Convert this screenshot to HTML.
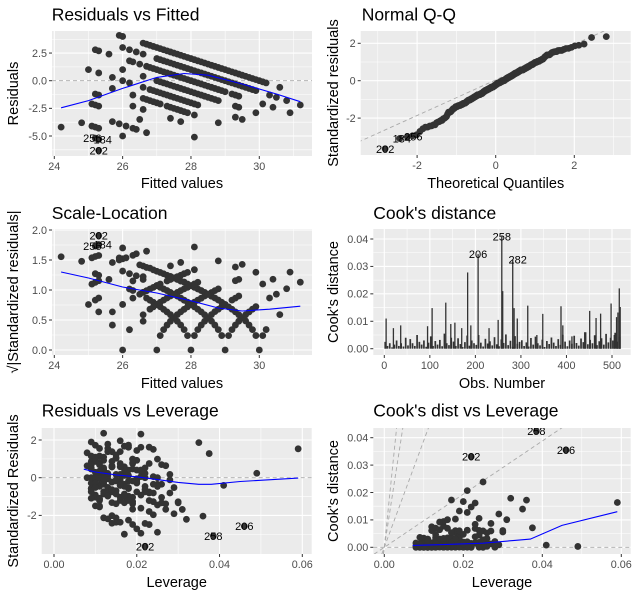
<!DOCTYPE html>
<html><head><meta charset="utf-8"><style>
html,body{margin:0;padding:0;background:#fff;overflow:hidden;width:638px;height:595px;}
svg{display:block;font-family:"Liberation Sans",Arial,sans-serif;}
.ttl{font-size:17.5px;fill:#000;}
.axt{font-size:14.5px;fill:#000;}
</style></head><body>
<svg id="chart" width="638" height="595" viewBox="0 0 638 595" xmlns="http://www.w3.org/2000/svg">
<rect x="0" y="0" width="638" height="595" fill="#fff"/>
<text class="ttl" x="51.7" y="20.5">Residuals vs Fitted</text>
<text class="ttl" x="361.7" y="20.5">Normal Q-Q</text>
<text class="ttl" x="51.7" y="219">Scale-Location</text>
<text class="ttl" x="373.3" y="219">Cook's distance</text>
<text class="ttl" x="41.7" y="416.7">Residuals vs Leverage</text>
<text class="ttl" x="373.3" y="416.7">Cook's dist vs Leverage</text>
<text class="axt" x="182" y="188" text-anchor="middle">Fitted values</text>
<text class="axt" x="495.7" y="188" text-anchor="middle">Theoretical Quantiles</text>
<text class="axt" x="182" y="388" text-anchor="middle">Fitted values</text>
<text class="axt" x="502" y="388" text-anchor="middle">Obs. Number</text>
<text class="axt" x="176.7" y="587" text-anchor="middle">Leverage</text>
<text class="axt" x="502" y="587" text-anchor="middle">Leverage</text>
<text class="axt" transform="translate(18,93.5) rotate(-90)" text-anchor="middle">Residuals</text>
<text class="axt" transform="translate(338,93) rotate(-90)" text-anchor="middle">Standardized residuals</text>
<text class="axt" transform="translate(18,292) rotate(-90)" text-anchor="middle">√|Standardized residuals|</text>
<text class="axt" transform="translate(338,292) rotate(-90)" text-anchor="middle">Cook's distance</text>
<text class="axt" transform="translate(18,491) rotate(-90)" text-anchor="middle">Standardized Residuals</text>
<text class="axt" transform="translate(338,491) rotate(-90)" text-anchor="middle">Cook's distance</text>
</svg>
<script>
// ---------- data ----------
const fittedVals = [
25.9,26.0,26.6,26.8,27.0,27.2,27.4,27.6,27.8,28.0,28.2,28.4,28.6,28.8,29.0,29.2,29.4,29.6,29.8,30.0,30.2,30.6,
26.0,26.2,26.4,26.6,27.0,27.3,27.5,27.7,27.9,28.1,28.3,28.5,28.7,28.9,29.1,29.3,29.5,29.7,29.9,30.3,30.5,30.8,31.2,
25.2,25.3,25.6,26.2,26.3,26.5,26.7,26.9,27.1,27.3,27.5,27.7,27.9,28.1,28.3,28.5,28.7,28.9,29.2,29.4,30.1,30.4,30.9,
26.0,26.6,27.0,27.2,27.4,27.6,27.8,28.0,28.2,28.4,28.6,28.8,29.3,29.4,29.9,
25.0,25.3,25.7,26.0,26.2,26.6,26.8,27.0,27.2,27.4,27.6,27.8,28.0,28.2,29.3,29.5,
25.7,26.3,26.6,26.8,27.0,27.3,27.5,27.7,27.9,28.1,28.8,
25.2,25.3,26.3,26.6,27.4,27.7,
25.1,25.2,25.3,26.5,28.1,
25.7,25.9,26.1,26.3,26.4,26.7,
24.8,25.1,25.2,25.3,26.0,
24.2,25.2,25.3,
25.3,
26.7,26.9,27.1,27.3,27.5,27.7,27.9,28.1,28.3,28.5,28.7,28.9,29.1,29.3,29.5,29.7,29.9,30.1,
27.1,27.2,27.4,27.6,27.8,28.0,28.2,28.4,28.6,28.8,29.0,29.2,29.4,29.6,29.8,
26.8,27.0,27.2,27.4,27.6,27.8,28.0,28.2,28.4,28.6,28.8,29.0,29.3,
27.1,27.3,27.5,27.7,27.9,28.1,28.3,28.5,28.7,
26.9,27.1,27.3,27.5,27.7,27.9,28.1,
26.7,26.9,27.1,27.4,27.6,27.8];
const responseVals = [
30,30,30,30,30,30,30,30,30,30,30,30,30,30,30,30,30,30,30,30,30,30,
29,29,29,29,29,29,29,29,29,29,29,29,29,29,29,29,29,29,29,29,29,29,29,
28,28,28,28,28,28,28,28,28,28,28,28,28,28,28,28,28,28,28,28,28,28,28,
27,27,27,27,27,27,27,27,27,27,27,27,27,27,27,
26,26,26,26,26,26,26,26,26,26,26,26,26,26,26,26,
25,25,25,25,25,25,25,25,25,25,25,
24,24,24,24,24,24,
23,23,23,23,23,
22,22,22,22,22,22,
21,21,21,21,21,
20,20,20,
19,
30,30,30,30,30,30,30,30,30,30,30,30,30,30,30,30,30,30,
29,29,29,29,29,29,29,29,29,29,29,29,29,29,29,
28,28,28,28,28,28,28,28,28,28,28,28,28,
27,27,27,27,27,27,27,27,27,
26,26,26,26,26,26,26,
25,25,25,25,25,25];
const leverageVals = [
0.012,0.021,0.016,0.035,0.010,0.018,0.024,0.013,0.0375,0.009,0.015,0.020,0.011,0.026,0.014,0.019,0.012,0.049,0.017,0.022,0.028,0.025,
0.018,0.023,0.059,0.014,0.011,0.019,0.009,0.016,0.027,0.012,0.021,0.010,0.015,0.024,0.013,0.018,0.020,0.011,0.029,0.023,0.017,0.026,0.030,
0.021,0.013,0.016,0.010,0.025,0.014,0.019,0.008,0.022,0.012,0.017,0.028,0.011,0.020,0.015,0.009,0.041,0.018,0.013,0.024,0.016,0.027,0.031,
0.017,0.012,0.009,0.020,0.014,0.026,0.011,0.018,0.013,0.023,0.010,0.016,0.030,0.019,0.027,
0.014,0.020,0.012,0.025,0.010,0.017,0.022,0.009,0.015,0.028,0.013,0.019,0.011,0.024,0.029,0.036,
0.016,0.012,0.021,0.010,0.018,0.014,0.025,0.011,0.019,0.023,0.032,
0.013,0.022,0.017,0.010,0.024,0.015,
0.011,0.019,0.026,0.014,0.021,
0.012,0.018,0.015,0.023,0.046,0.020,
0.013,0.016,0.022,0.019,0.025,
0.014,0.017,0.0385,
0.022,
0.009,0.013,0.017,0.011,0.020,0.008,0.015,0.012,0.019,0.010,0.023,0.014,0.009,0.018,0.012,0.016,0.021,0.011,
0.010,0.015,0.012,0.019,0.009,0.014,0.017,0.011,0.022,0.013,0.008,0.016,0.020,0.012,0.025,
0.011,0.016,0.009,0.021,0.013,0.018,0.010,0.015,0.012,0.024,0.017,0.009,0.014,
0.012,0.019,0.010,0.016,0.013,0.022,0.009,0.015,0.018,
0.010,0.014,0.020,0.012,0.017,0.011,0.023,
0.013,0.009,0.018,0.015,0.011,0.021];
const residSigma = 1.75;
const nParams = 9;
const fitLabelIdx = [133,134,135];
const fitLabelText = ['256','184','202'];
const levLabelIdx = [135,134,125];
const levLabelText = ['202','258','206'];
// loess smooth curves
const smoothFitX = [24.2,25,26,27,27.8,28.5,29.5,30.5,31.2];
const smoothFitY = [-2.45,-1.8,-0.7,0.3,0.65,0.5,-0.3,-1.2,-1.9];
const smoothScaleX = [24.2,25,26,27,28,28.8,29.5,30.3,31.2];
const smoothScaleY = [1.3,1.2,1.05,0.95,0.82,0.7,0.65,0.68,0.73];
const smoothLevX = [0.0072,0.01,0.015,0.02,0.025,0.03,0.035,0.038,0.045,0.059];
const smoothLevY = [0.45,0.3,0.15,0.05,-0.1,-0.25,-0.35,-0.35,-0.2,-0.02];
const smoothCookX = [0.0072,0.015,0.025,0.033,0.037,0.045,0.059];
const smoothCookY = [0.0007,0.001,0.0015,0.0025,0.003,0.008,0.013];
const qqSlope = 0.95, qqIntercept = 0.04;
const contourSlopes = [0.97,3.9,9.3,14];
// Cook's distance by observation (values in thousandths)
const cookBaseVals = [2.5,1,2,0.5,1.5,3,1,2,0.8,4,1.2,3.5,2,1,5,2.5,1.5,3,0.7,2.2,4.5,1,2.8,1.5,3.2,0.9,5.5,2,1.3,4,2.6,1,3.8,1.7,0.6,2.4,4.8,1.1,3,2,1.4,5,2.2,0.8,3.6,1.9,2.7,1.2,4.2,1.6,0.9,3.4,2.1,5.2,1.3,2.9,0.7,4.6,1.8,2.5,3.1,1,2.3,0.8,3.9,1.5,4.4,2,1.2,3.3,0.6,2.8,1.7,4.1,2.2,1,3.5,1.4,5.1,2.6,0.9,3,1.8,4.7,2.1,1.1,3.7,2.4,6,1.6,3.2,2,4.9,1.3,2.7,3.8,1.5,5.4,2.3,4,3,5.8,2.6,4.3];
const cookBaseStep = 5;
const cookPeakObs = [4,20,36,95,105,135,146,155,170,183,190,206,230,250,258,260,282,285,292,315,335,348,388,392,412,440,451,465,475,498,505,510,513,516,518];
const cookPeakVals = [11,7.5,8.5,8.2,14.8,16.8,9,9.5,7.5,27.8,8.5,34.5,7.5,10.5,41,21,32.5,14.8,11,15.7,5,12.7,15.5,8.5,4.5,6,13.8,11.2,12.8,16.5,5,11.5,13.2,22,15.2];
const cookLabelObs = [206,258,282];
const cookLabelVals = [34.5,41,32.5];

// ---------- helpers ----------
const NS='http://www.w3.org/2000/svg';
const svg=document.getElementById('chart');
function mk(tag,attrs,parent){const e=document.createElementNS(NS,tag);for(const k in attrs)e.setAttribute(k,attrs[k]);(parent||svg).appendChild(e);return e;}
function lin(d0,p0,d1,p1){return v=>p0+(v-d0)*(p1-p0)/(d1-d0);}
function qnorm(p){
  const a=[-39.69683028665376,220.9460984245205,-275.9285104469687,138.3577518672690,-30.66479806614716,2.506628277459239];
  const b=[-54.47609879822406,161.5858368580409,-155.6989798598866,66.80131188771972,-13.28068155288572];
  const c=[-0.007784894002430293,-0.3223964580411365,-2.400758277161838,-2.549732539343734,4.374664141464968,2.938163982698783];
  const d=[0.007784695709041462,0.3224671290700398,2.445134137142996,3.754408661907416];
  const pl=0.02425;let q,r;
  if(p<pl){q=Math.sqrt(-2*Math.log(p));return (((((c[0]*q+c[1])*q+c[2])*q+c[3])*q+c[4])*q+c[5])/((((d[0]*q+d[1])*q+d[2])*q+d[3])*q+1);}
  if(p>1-pl){q=Math.sqrt(-2*Math.log(1-p));return -(((((c[0]*q+c[1])*q+c[2])*q+c[3])*q+c[4])*q+c[5])/((((d[0]*q+d[1])*q+d[2])*q+d[3])*q+1);}
  q=p-0.5;r=q*q;return (((((a[0]*r+a[1])*r+a[2])*r+a[3])*r+a[4])*r+a[5])*q/(((((b[0]*r+b[1])*r+b[2])*r+b[3])*r+b[4])*r+1);
}

function panel(cfg){
  const [x0,y0,x1,y1]=cfg.box;
  const g=mk('g',{});
  
  
  const bg=mk('rect',{x:x0,y:y0,width:x1-x0,height:y1-y0,fill:'#EBEBEB'},g);
  
  
  const grid=mk('g',{},g);
  
  
  cfg.xminor.forEach(v=>{const p=cfg.sx(v);if(p>x0&&p<x1)mk('line',{x1:p,x2:p,y1:y0,y2:y1,stroke:'#fff','stroke-width':0.55},grid);});
  cfg.yminor.forEach(v=>{const p=cfg.sy(v);if(p>y0&&p<y1)mk('line',{x1:x0,x2:x1,y1:p,y2:p,stroke:'#fff','stroke-width':0.55},grid);});
  cfg.xt.forEach(v=>{const p=cfg.sx(v);mk('line',{x1:p,x2:p,y1:y0,y2:y1,stroke:'#fff','stroke-width':1.1},grid);});
  cfg.yt.forEach(v=>{const p=cfg.sy(v);mk('line',{x1:x0,x2:x1,y1:p,y2:p,stroke:'#fff','stroke-width':1.1},grid);});
  const ax=mk('g',{},g);
  
  
  cfg.xt.forEach((v,i)=>{const p=cfg.sx(v);
    mk('line',{x1:p,x2:p,y1:y1,y2:y1+3,stroke:'#333','stroke-width':1},ax);
    const t=mk('text',{x:p,y:y1+14,'text-anchor':'middle','font-size':'10.8px',fill:'#4d4d4d'},ax);
    
    
    t.textContent=cfg.xl[i];});
  cfg.yt.forEach((v,i)=>{const p=cfg.sy(v);
    mk('line',{x1:x0-3,x2:x0,y1:p,y2:p,stroke:'#333','stroke-width':1},ax);
    const t=mk('text',{x:x0-5,y:p+3.8,'text-anchor':'end','font-size':'10.8px',fill:'#4d4d4d'},ax);
    
    
    t.textContent=cfg.yl[i];});
  const clipId='clip'+cfg.name;
  const cp=mk('clipPath',{id:clipId},g);
  mk('rect',{x:x0,y:y0,width:x1-x0,height:y1-y0},cp);
  const marks=mk('g',{'clip-path':'url(#'+clipId+')'},g);
  
  
  return marks;
}
function dashH(g,x0,x1,y){const l=mk('line',{x1:x0,x2:x1,y1:y,y2:y,stroke:'#aaa','stroke-width':0.9,'stroke-dasharray':'4,3'},g);
  
  }
function dot(g,x,y){const c=mk('circle',{cx:x,cy:y,r:3.4,fill:'#333'},g);
  
  }
function smooth(g,xs,ys,sx,sy){const d=xs.map((v,i)=>(i?'L':'M')+sx(v).toFixed(1)+','+sy(ys[i]).toFixed(1)).join('');
  const p=mk('path',{d:d,fill:'none',stroke:'#0000FF','stroke-width':1.1},g);
  
  }
function label(g,x,y,txt){const t=mk('text',{x:x,y:y+4,'text-anchor':'middle','font-size':'11px',fill:'#000'},g);
  
  
  t.textContent=txt;}

// derived quantities
const resid=fittedVals.map((f,i)=>responseVals[i]-f);
const stdRes=resid.map((r,i)=>r/(residSigma*Math.sqrt(1-leverageVals[i])));
const cooks=stdRes.map((s,i)=>s*s*leverageVals[i]/(nParams*(1-leverageVals[i])));

// ---------- Panel 1: Residuals vs Fitted ----------
{
  const sx=lin(24,54.3,30,259.3), sy=lin(0,80.7,-5,136);
  const g=panel({name:'residuals-vs-fitted-panel',box:[52,31,312,156],sx,sy,xt:[24,26,28,30],xl:['24','26','28','30'],xminor:[25,27,29,31],yt:[-5,-2.5,0,2.5],yl:['-5.0','-2.5','0.0','2.5'],yminor:[-6.25,-3.75,-1.25,1.25,3.75]});
  dashH(g,52,312,sy(0));
  fittedVals.forEach((f,i)=>dot(g,sx(f),sy(resid[i])));
  smooth(g,smoothFitX,smoothFitY,sx,sy);
  fitLabelIdx.forEach((k,j)=>label(g,sx(fittedVals[k])+(j===1?4:j===0?-3:0),sy(resid[k]),fitLabelText[j]));
}
// ---------- Panel 2: Normal Q-Q ----------
{
  const sx=lin(0,495.7,2,574.3), sy=lin(0,80.7,2,43.3);
  const g=panel({name:'normal-qq-panel',box:[360.7,31,630.7,155],sx,sy,xt:[-2,0,2],xl:['-2','0','2'],xminor:[-3,-1,1,3],yt:[-2,0,2],yl:['-2','0','2'],yminor:[-3,-1,1]});
  const l=mk('line',{x1:sx(-3.5),y1:sy(qqSlope*-3.5+qqIntercept),x2:sx(3.4),y2:sy(qqSlope*3.4+qqIntercept),stroke:'#aaa','stroke-width':0.9,'stroke-dasharray':'4,3'},g);
  
  
  const order=stdRes.map((s,i)=>i).sort((a,b)=>stdRes[a]-stdRes[b]);
  const n=order.length;
  order.forEach((k,r)=>dot(g,sx(qnorm((r+0.5)/n)),sy(stdRes[k])));
  const qqText=['202','184','256'];
  [0,1,2].forEach(r=>label(g,sx(qnorm((r+0.5)/n))+(r===0?0:r*4-2),sy(stdRes[order[r]]),qqText[r]));
}
// ---------- Panel 3: Scale-Location ----------
{
  const sx=lin(24,54.3,30,259.3), sy=lin(0,350,2,230);
  const g=panel({name:'scale-location-panel',box:[52,229,312,355],sx,sy,xt:[24,26,28,30],xl:['24','26','28','30'],xminor:[25,27,29,31],yt:[0,0.5,1,1.5,2],yl:['0.0','0.5','1.0','1.5','2.0'],yminor:[0.25,0.75,1.25,1.75]});
  fittedVals.forEach((f,i)=>dot(g,sx(f),sy(Math.sqrt(Math.abs(stdRes[i])))));
  smooth(g,smoothScaleX,smoothScaleY,sx,sy);
  fitLabelIdx.forEach((k,j)=>label(g,sx(fittedVals[k])+(j===1?4:j===0?-3:0),sy(Math.sqrt(Math.abs(stdRes[k]))),fitLabelText[j]));
}
// ---------- Panel 4: Cook's distance ----------
{
  const sx=lin(0,384.3,500,612), sy=lin(0,348.7,0.04,239);
  const g=panel({name:'cooks-distance-panel',box:[373.3,229,630.7,355],sx,sy,xt:[0,100,200,300,400,500],xl:['0','100','200','300','400','500'],xminor:[50,150,250,350,450,550],yt:[0,0.01,0.02,0.03,0.04],yl:['0.00','0.01','0.02','0.03','0.04'],yminor:[0.005,0.015,0.025,0.035]});
  cookBaseVals.forEach((v,i)=>{const x=sx(i*cookBaseStep+2);
    const b=mk('line',{x1:x,x2:x,y1:sy(0),y2:sy(v/1000),stroke:'#333','stroke-width':1.7},g);
    
    });
  cookPeakObs.forEach((o,i)=>{const x=sx(o);
    const b=mk('line',{x1:x,x2:x,y1:sy(0),y2:sy(cookPeakVals[i]/1000),stroke:'#333','stroke-width':1.3},g);
    
    });
  cookLabelObs.forEach((o,i)=>label(g,sx(o)+(i===2?5:0),sy(cookLabelVals[i]/1000),String(o)));
}
// ---------- Panel 5: Residuals vs Leverage ----------
{
  const sx=lin(0,54,0.06,302.3), sy=lin(0,477.7,2,440);
  const g=panel({name:'residuals-vs-leverage-panel',box:[41.7,428,311.7,554],sx,sy,xt:[0,0.02,0.04,0.06],xl:['0.00','0.02','0.04','0.06'],xminor:[0.01,0.03,0.05],yt:[-2,0,2],yl:['-2','0','2'],yminor:[-3,-1,1]});
  dashH(g,41.7,311.7,sy(0));
  leverageVals.forEach((h,i)=>dot(g,sx(h),sy(stdRes[i])));
  smooth(g,smoothLevX,smoothLevY,sx,sy);
  levLabelIdx.forEach((k,j)=>label(g,sx(leverageVals[k]),sy(stdRes[k]),levLabelText[j]));
}
// ---------- Panel 6: Cook's dist vs Leverage ----------
{
  const sx=lin(0,384.3,0.06,621.3), sy=lin(0,547.3,0.04,437.7);
  const g=panel({name:'cooks-vs-leverage-panel',box:[373.3,428,630.7,554],sx,sy,xt:[0,0.02,0.04,0.06],xl:['0.00','0.02','0.04','0.06'],xminor:[0.01,0.03,0.05],yt:[0,0.01,0.02,0.03,0.04],yl:['0.00','0.01','0.02','0.03','0.04'],yminor:[0.005,0.015,0.025,0.035]});
  dashH(g,373.3,630.7,sy(0));
  contourSlopes.forEach(s=>{
    const xa=-0.0025/s, xb=Math.min(0.062,0.044/s);
    const l=mk('line',{x1:sx(xa),y1:sy(xa*s),x2:sx(xb),y2:sy(xb*s),stroke:'#aaa','stroke-width':0.9,'stroke-dasharray':'4,3'},g);
    
    });
  leverageVals.forEach((h,i)=>dot(g,sx(h),sy(cooks[i])));
  smooth(g,smoothCookX,smoothCookY,sx,sy);
  levLabelIdx.forEach((k,j)=>label(g,sx(leverageVals[k]),sy(cooks[k]),levLabelText[j]));
}
</script>
</body></html>
